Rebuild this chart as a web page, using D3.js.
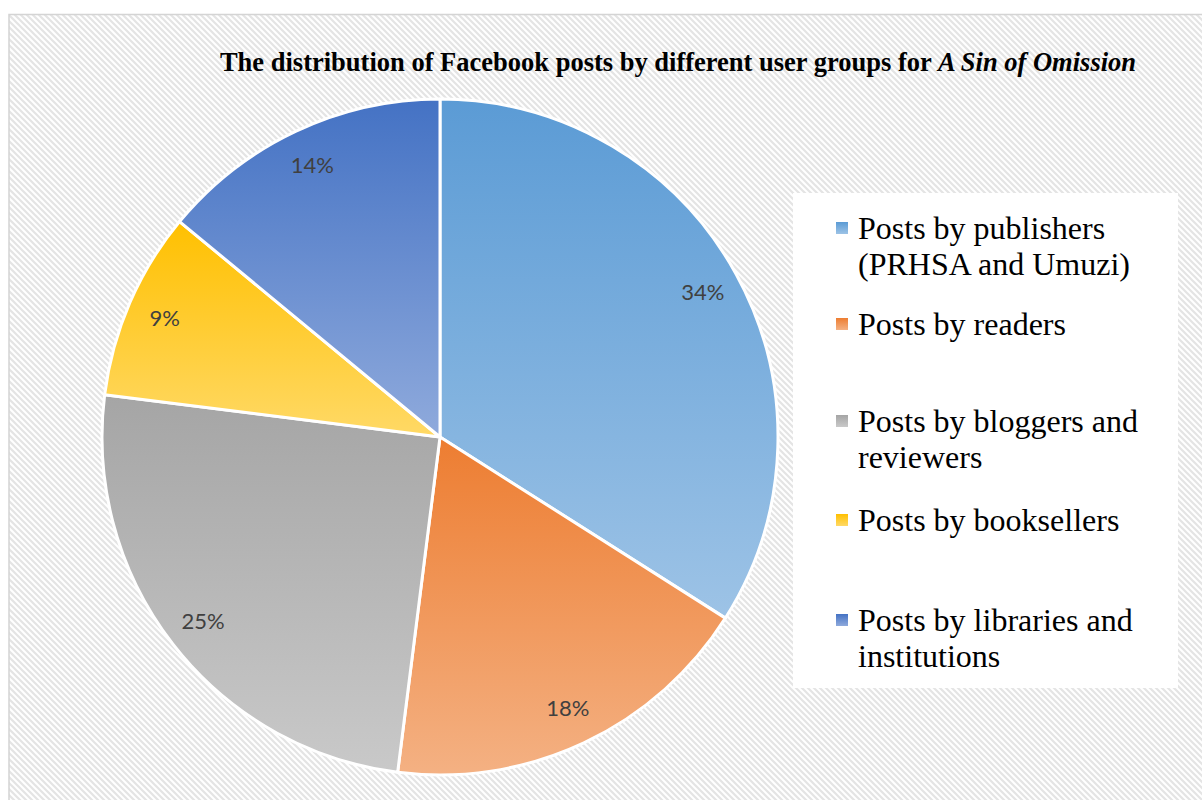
<!DOCTYPE html>
<html>
<head>
<meta charset="utf-8">
<script src="https://cdn.jsdelivr.net/npm/d3@7"></script>
<style>
  html, body { margin: 0; padding: 0; background: #ffffff; }
  svg { display: block; }
</style>
</head>
<body>
<svg id="chart" width="1202" height="800"></svg>
<script>
// Share of Facebook posts per user group
const categories = [
  "Posts by publishers (PRHSA and Umuzi)",
  "Posts by readers",
  "Posts by bloggers and reviewers",
  "Posts by booksellers",
  "Posts by libraries and institutions"
];
const values = [34, 18, 25, 9, 14];
const legendLines = [
  ["Posts by publishers", "(PRHSA and Umuzi)"],
  ["Posts by readers"],
  ["Posts by bloggers and", "reviewers"],
  ["Posts by booksellers"],
  ["Posts by libraries and", "institutions"]
];
// gradient stops per slice: [top colour, bottom colour]
const sliceColors = [
  ["#5b9bd5", "#9dc3e6"],
  ["#ed7d31", "#f4b183"],
  ["#a5a5a5", "#c9c9c9"],
  ["#ffc000", "#ffd966"],
  ["#4472c4", "#8faadc"]
];

const svg = d3.select("#chart");
const defs = svg.append("defs");

// diagonal hatch background
const pat = defs.append("pattern")
  .attr("id", "hatch")
  .attr("patternUnits", "userSpaceOnUse")
  .attr("width", 6).attr("height", 6);
pat.append("rect").attr("width", 6).attr("height", 6).attr("fill", "#ffffff");
pat.append("path")
  .attr("d", "M-1,-1 L7,7 M-7,-1 L1,7 M5,-1 L13,7")
  .attr("stroke", "#e4e4e4").attr("stroke-width", 2.2);

sliceColors.forEach((c, i) => {
  const g = defs.append("linearGradient")
    .attr("id", "grad" + i)
    .attr("x1", 0).attr("y1", 0).attr("x2", 0).attr("y2", 1);
  g.append("stop").attr("offset", "0%").attr("stop-color", c[0]);
  g.append("stop").attr("offset", "100%").attr("stop-color", c[1]);
});

svg.append("rect")
  .attr("x", 9).attr("y", 14.5)
  .attr("width", 1220).attr("height", 820)
  .attr("fill", "url(#hatch)")
  .attr("stroke", "#d4d4d4").attr("stroke-width", 1.5);

// title
const title = svg.append("text")
  .attr("x", 678).attr("y", 71)
  .attr("text-anchor", "middle")
  .attr("font-family", "'Liberation Serif', 'Times New Roman', serif")
  .attr("font-size", 26.5)
  .attr("font-weight", "bold")
  .attr("fill", "#000");
title.append("tspan").text("The distribution of Facebook posts by different user groups for ");
title.append("tspan").attr("font-style", "italic").text("A Sin of Omission");

// pie
const cx = 440, cy = 437, R = 338;
const pie = d3.pie().sort(null).value(d => d);
const arcs = pie(values);
const arc = d3.arc().innerRadius(0).outerRadius(R);
const labelArc = d3.arc().innerRadius(300).outerRadius(300);

const gPie = svg.append("g").attr("transform", `translate(${cx},${cy})`);
gPie.selectAll("path.slice")
  .data(arcs)
  .join("path")
  .attr("class", "slice")
  .attr("d", arc)
  .attr("fill", (d, i) => `url(#grad${i})`)
  .attr("stroke", "#ffffff")
  .attr("stroke-width", 3)
  .attr("stroke-linejoin", "round");

gPie.selectAll("text.pct")
  .data(arcs)
  .join("text")
  .attr("class", "pct")
  .attr("transform", d => `translate(${labelArc.centroid(d)})`)
  .attr("text-anchor", "middle")
  .attr("dy", "0.35em")
  .attr("font-family", "Lato, 'Open Sans', sans-serif")
  .attr("font-size", 22)
  .attr("fill", "#404040")
  .text(d => d.data + "%");

// legend
svg.append("rect")
  .attr("x", 793).attr("y", 193)
  .attr("width", 385).attr("height", 495)
  .attr("fill", "#ffffff");

const legendY = [228, 324, 421, 520, 620];
const lineH = 36;
const gLeg = svg.append("g");
categories.forEach((c, i) => {
  const item = gLeg.append("g").attr("transform", `translate(836,${legendY[i]})`);
  item.append("rect")
    .attr("x", 0).attr("y", -6)
    .attr("width", 12).attr("height", 12)
    .attr("fill", `url(#grad${i})`);
  const t = item.append("text")
    .attr("x", 22).attr("y", 0)
    .attr("font-family", "'Liberation Serif', 'Times New Roman', serif")
    .attr("font-size", 32)
    .attr("fill", "#000");
  legendLines[i].forEach((ln, j) => {
    t.append("tspan").attr("x", 22).attr("dy", j === 0 ? "0.33em" : lineH).text(ln);
  });
});
</script>
</body>
</html>
